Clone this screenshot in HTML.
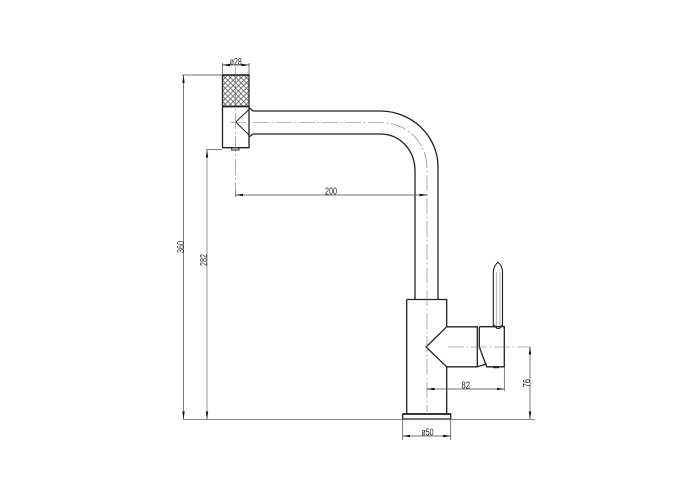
<!DOCTYPE html>
<html><head><meta charset="utf-8"><style>
html,body{margin:0;padding:0;background:#fff}
svg{display:block}
text{font-family:"Liberation Sans",sans-serif;font-size:10px;fill:#222}
</style></head><body>
<svg width="700" height="500" viewBox="0 0 700 500" xmlns="http://www.w3.org/2000/svg">
<defs>
<pattern id="h" width="5.3" height="5.3" patternUnits="userSpaceOnUse" x="222.5" y="75">
<path d="M0 0L5.300 5.300M5.300 0L0 5.300" stroke="#444" stroke-width="0.7" fill="none"/>
</pattern>
<marker id="a" markerWidth="8" markerHeight="4" refX="7.5" refY="2" orient="auto-start-reverse" markerUnits="userSpaceOnUse"><path d="M0 .8L8 2L0 3.200Z" fill="#111"/></marker>
</defs>
<!-- head -->
<rect x="222.5" y="75" width="26.5" height="31.5" fill="url(#h)"/>
<g fill="none" stroke="#222" stroke-width="1.300">
<path d="M222.500 75H249V147.700H222.500Z"/>
<path d="M222.500 75H249" stroke-width="1.600"/>
<path d="M222.500 106.500H249" stroke-width="1.800"/>
<path d="M249 107.500L253 111H380C412 111 438 136 438 167V299"/>
<path d="M249 137L253 134H380C400 134 415 150 415 171V299"/>
<path d="M231.700 147.700V150H239V147.700" stroke-width="1"/>
<!-- body -->
<path d="M406.700 299.500H446.700V326.800H477.300V366.800H446.700V414M406.700 299.500V414"/>
<path d="M402.700 414H450.700V419H402.700Z"/>
<path d="M402.700 414H450.700" stroke-width="1.800"/>
<path d="M446.700 326.800L426 347L446.700 366.800"/>
<path d="M477.300 366.800L486.700 364"/>
<path d="M479.300 327V347L486.700 366.800H504.300V326.700H479.300"/>
<path d="M493 367.300H499" stroke-width="1.800"/>
<path d="M493.300 326.700V272C493.300 268 495.500 264 498 262.300C500.500 264 502.500 268 502.500 272V326.700" stroke-width="1.100"/>
<path d="M496.300 272V326M500 272V326" stroke="#999" stroke-width=".8"/>
<path d="M493.800 325L497 328.500H499.500L502.200 325" stroke-width="1"/>
<path d="M235.700 122L249 109.500M235.700 122L249 135" stroke-width="1"/>
</g>
<!-- centre lines -->
<g fill="none" stroke="#777" stroke-width=".6" stroke-dasharray="16 2.500 2 2.500">
<path d="M235.700 67V190"/>
<path d="M230 122.500H380C407 122.500 427 142 427 169V412"/>
<path d="M448 347H530"/>
</g>
<!-- extension lines -->
<g fill="none" stroke="#444" stroke-width=".7">
<path d="M182 75H222"/>
<path d="M206 149.700H222"/>
<path d="M183 419.300H535"/>
<path d="M222.500 63V75M249 63V75"/>
<path d="M402.700 419V440M450.700 419V440"/>
<path d="M504.300 367V391"/>
<path d="M235.700 190V197"/>
</g>
<!-- dimension lines -->
<g fill="none" stroke="#444" stroke-width=".7">
<path d="M183.500 75.500V419" marker-start="url(#a)" marker-end="url(#a)"/>
<path d="M207 150V419" marker-start="url(#a)" marker-end="url(#a)" stroke="#aaa" stroke-width="1.200"/>
<path d="M235.700 195H427" marker-start="url(#a)" marker-end="url(#a)"/>
<path d="M222.500 65H249" marker-start="url(#a)" marker-end="url(#a)"/>
<path d="M402.700 436H450.700" marker-start="url(#a)" marker-end="url(#a)"/>
<path d="M427 389H504.300" marker-start="url(#a)" marker-end="url(#a)"/>
<path d="M530 347V419" marker-start="url(#a)" marker-end="url(#a)"/>
</g>
<!-- labels -->
<g>
<text x="229.700" y="65" textLength="12" lengthAdjust="spacingAndGlyphs">ø28</text>
<text x="325" y="194.500" textLength="12" lengthAdjust="spacingAndGlyphs">200</text>
<text x="461.500" y="388.500" textLength="8.500" lengthAdjust="spacingAndGlyphs">82</text>
<text x="421.500" y="435.500" textLength="12" lengthAdjust="spacingAndGlyphs">ø50</text>
<text transform="translate(184 253) rotate(-90)" textLength="12" lengthAdjust="spacingAndGlyphs">360</text>
<text transform="translate(207 266) rotate(-90)" textLength="12" lengthAdjust="spacingAndGlyphs">282</text>
<text transform="translate(530 387.500) rotate(-90)" textLength="8.500" lengthAdjust="spacingAndGlyphs">76</text>
</g>
</svg>
</body></html>
